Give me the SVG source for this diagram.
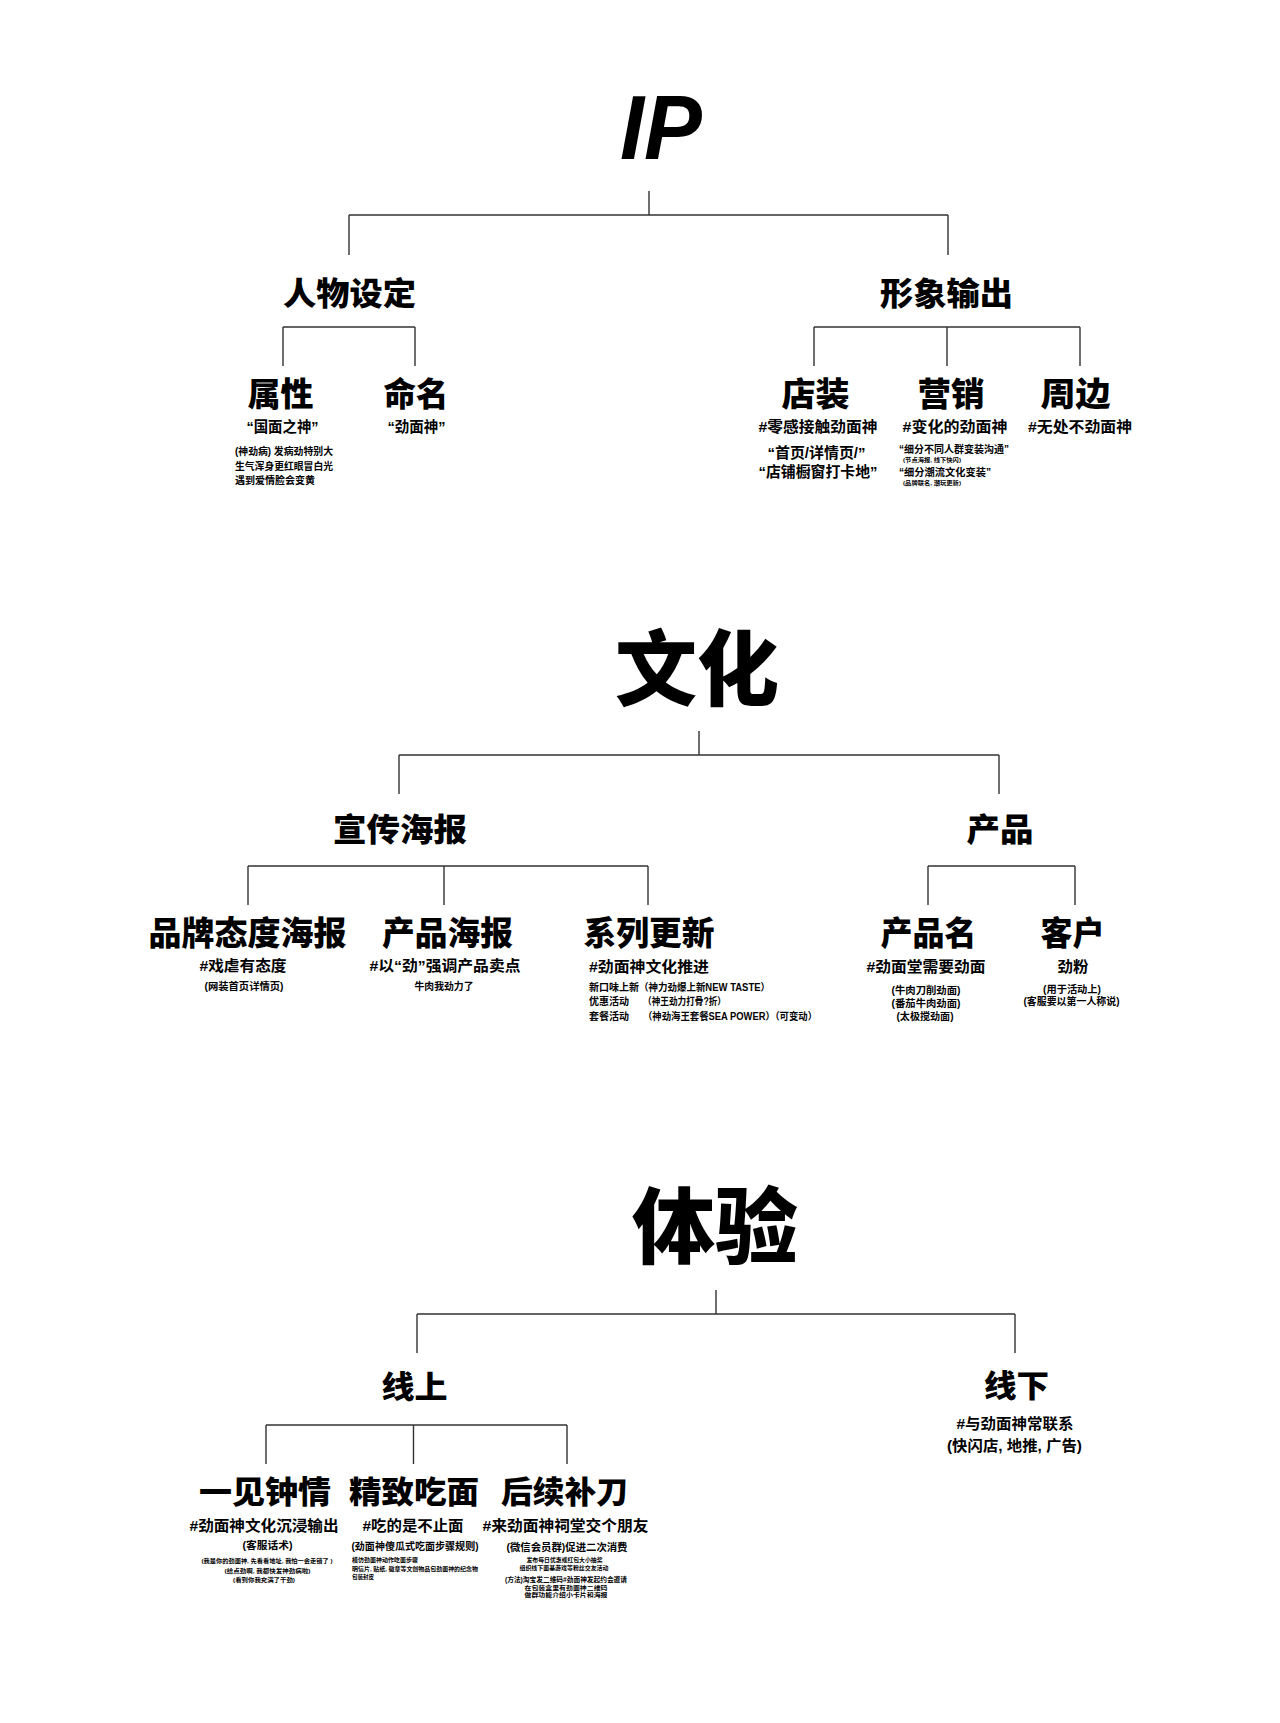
<svg xmlns="http://www.w3.org/2000/svg" width="1280" height="1723" viewBox="0 0 1280 1723">
<style>
text{font-family:"Liberation Sans","Noto Sans CJK SC",sans-serif;fill:#000;font-weight:700}
.t{font-weight:900}
.ip{font-family:"Liberation Sans","Roboto",sans-serif;font-style:italic;font-weight:900;font-size:90px}
.h2{font-size:32px;font-weight:900}
.h3{font-size:33px;font-weight:900}
.sub{font-size:15px}
.sm{font-size:10px}
.xs{font-size:6px}
.m{text-anchor:middle}
.conn path{stroke:#333;stroke-width:1.4;fill:none}
</style>
<rect width="1280" height="1723" fill="#fff"/>
<g class="conn" id="connectors">
<path d="M649,191V215M349,215H948M349,215V255M948,215V255"/>
<path d="M283,327H415M283,327V366M415,327V366"/>
<path d="M814,327H1080M814,327V366M947,327V366M1080,327V366"/>
<path d="M699,731V755M399,755H999M399,755V794M999,755V794"/>
<path d="M248,866H648M248,866V905M444,866V905M648,866V905"/>
<path d="M928,866H1075M928,866V905M1075,866V905"/>
<path d="M716,1290V1314M417,1314H1015M417,1314V1353M1015,1314V1353"/>
<path d="M266,1425H567M266,1425V1464M413.5,1425V1464M567,1425V1464"/>
</g>

<g id="ip"><text class="ip m" x="661" y="159" textLength="82" lengthAdjust="spacingAndGlyphs">IP</text></g>
<g id="renwu"><text class="h2 m" x="349.5" y="305" textLength="133" lengthAdjust="spacingAndGlyphs">人物设定</text></g>
<g id="xingxiang"><text class="h2 m" x="946.5" y="305" textLength="133" lengthAdjust="spacingAndGlyphs">形象输出</text></g>
<g id="shuxing">
<text class="h3 m" x="280.5" y="406" textLength="66" lengthAdjust="spacingAndGlyphs">属性</text>
<text class="sub m" x="282.5" y="432" textLength="72" lengthAdjust="spacingAndGlyphs">“国面之神”</text>
<text class="sm" x="235" y="455" textLength="98" lengthAdjust="spacingAndGlyphs">(神劲病) 发病劲特别大</text>
<text class="sm" x="235" y="469.5" textLength="98" lengthAdjust="spacingAndGlyphs">生气浑身更红眼冒白光</text>
<text class="sm" x="235" y="484" textLength="80" lengthAdjust="spacingAndGlyphs">遇到爱情脸会变黄</text>
</g>
<g id="mingming">
<text class="h3 m" x="416" y="406" textLength="65" lengthAdjust="spacingAndGlyphs">命名</text>
<text class="sub m" x="416.5" y="432" textLength="58" lengthAdjust="spacingAndGlyphs">“劲面神”</text>
</g>
<g id="dianzhuang">
<text class="h3 m" x="815.5" y="406" textLength="68" lengthAdjust="spacingAndGlyphs">店装</text>
<text class="sub m" x="818" y="432" textLength="119" lengthAdjust="spacingAndGlyphs">#零感接触劲面神</text>
<text class="sub m" x="816.5" y="458" textLength="98" lengthAdjust="spacingAndGlyphs">“首页/详情页/”</text>
<text class="sub m" x="818" y="477" textLength="119" lengthAdjust="spacingAndGlyphs">“店铺橱窗打卡地”</text>
</g>
<g id="yingxiao">
<text class="h3 m" x="951" y="406" textLength="67" lengthAdjust="spacingAndGlyphs">营销</text>
<text class="sub m" x="955" y="432" textLength="105" lengthAdjust="spacingAndGlyphs">#变化的劲面神</text>
<text class="sm" x="899" y="453" textLength="110" lengthAdjust="spacingAndGlyphs">“细分不同人群变装沟通”</text>
<text style="font-size:6px" x="903" y="462" textLength="58" lengthAdjust="spacingAndGlyphs">(节点海报, 线下快闪)</text>
<text class="sm" x="899" y="476" textLength="92" lengthAdjust="spacingAndGlyphs">“细分潮流文化变装”</text>
<text style="font-size:6px" x="903" y="485" textLength="58" lengthAdjust="spacingAndGlyphs">(品牌联名, 潮玩更新)</text>
</g>
<g id="zhoubian">
<text class="h3 m" x="1075.5" y="406" textLength="70" lengthAdjust="spacingAndGlyphs">周边</text>
<text class="sub m" x="1080" y="432" textLength="104" lengthAdjust="spacingAndGlyphs">#无处不劲面神</text>
</g>

<g id="wenhua"><text class="t m" style="font-size:82px" x="697" y="699">文化</text></g>
<g id="xuanchuan"><text class="h2 m" x="400" y="841" textLength="134" lengthAdjust="spacingAndGlyphs">宣传海报</text></g>
<g id="chanpin"><text class="h2 m" x="1000" y="841" textLength="67" lengthAdjust="spacingAndGlyphs">产品</text></g>
<g id="pinpai">
<text class="h3 m" x="247.5" y="945" textLength="198" lengthAdjust="spacingAndGlyphs">品牌态度海报</text>
<text class="sub m" x="243" y="971" textLength="87" lengthAdjust="spacingAndGlyphs">#戏虐有态度</text>
<text class="sm m" x="244" y="990" textLength="79" lengthAdjust="spacingAndGlyphs">(网装首页详情页)</text>
</g>
<g id="chanpinhaibao">
<text class="h3 m" x="447.5" y="945" textLength="131" lengthAdjust="spacingAndGlyphs">产品海报</text>
<text class="sub m" x="445" y="971" textLength="151" lengthAdjust="spacingAndGlyphs">#以“劲”强调产品卖点</text>
<text class="sm m" x="444" y="990" textLength="59" lengthAdjust="spacingAndGlyphs">牛肉我劲力了</text>
</g>
<g id="xilie">
<text class="h3 m" x="649" y="945" textLength="131" lengthAdjust="spacingAndGlyphs">系列更新</text>
<text class="sub" x="589" y="972" textLength="120" lengthAdjust="spacingAndGlyphs">#劲面神文化推进</text>
<text class="sm" x="589" y="991">新口味上新</text>
<text class="sm" x="639" y="991" textLength="131" lengthAdjust="spacingAndGlyphs">（神力劲爆上新NEW TASTE）</text>
<text class="sm" x="589" y="1005">优惠活动</text>
<text class="sm" x="643" y="1005" textLength="83" lengthAdjust="spacingAndGlyphs">（神王劲力打骨?折）</text>
<text class="sm" x="589" y="1020">套餐活动</text>
<text class="sm" x="643" y="1020" textLength="174" lengthAdjust="spacingAndGlyphs">（神劲海王套餐SEA POWER）（可变动）</text>
</g>
<g id="chanpinming">
<text class="h3 m" x="928.5" y="945" textLength="96" lengthAdjust="spacingAndGlyphs">产品名</text>
<text class="sub m" x="926" y="972" textLength="119" lengthAdjust="spacingAndGlyphs">#劲面堂需要劲面</text>
<text class="sm m" x="926" y="994" textLength="69" lengthAdjust="spacingAndGlyphs">(牛肉刀削劲面)</text>
<text class="sm m" x="926" y="1007" textLength="69" lengthAdjust="spacingAndGlyphs">(番茄牛肉劲面)</text>
<text class="sm m" x="925" y="1020" textLength="57" lengthAdjust="spacingAndGlyphs">(太极搅劲面)</text>
</g>
<g id="kehu">
<text class="h3 m" x="1072.5" y="945" textLength="64" lengthAdjust="spacingAndGlyphs">客户</text>
<text class="sub m" x="1073" y="972" textLength="31" lengthAdjust="spacingAndGlyphs">劲粉</text>
<text class="sm m" x="1072" y="993" textLength="58" lengthAdjust="spacingAndGlyphs">(用于活动上)</text>
<text class="sm m" x="1071.5" y="1005" textLength="96" lengthAdjust="spacingAndGlyphs">(客服要以第一人称说)</text>
</g>

<g id="tiyan"><text class="t m" style="font-size:83px" x="715" y="1257">体验</text></g>
<g id="xianshang"><text class="h2 m" style="font-size:31px" x="414.5" y="1398" textLength="66" lengthAdjust="spacingAndGlyphs">线上</text></g>
<g id="xianxia">
<text class="h2 m" style="font-size:31px" x="1016.5" y="1397" textLength="65" lengthAdjust="spacingAndGlyphs">线下</text>
<text class="sub m" x="1015" y="1429" textLength="117" lengthAdjust="spacingAndGlyphs">#与劲面神常联系</text>
<text class="sub m" x="1014.5" y="1451" textLength="135" lengthAdjust="spacingAndGlyphs">(快闪店, 地推, 广告)</text>
</g>
<g id="yijian">
<text class="h2 m" style="font-size:31px" x="265" y="1503" textLength="132" lengthAdjust="spacingAndGlyphs">一见钟情</text>
<text class="sub m" x="264" y="1531" textLength="149" lengthAdjust="spacingAndGlyphs">#劲面神文化沉浸输出</text>
<text class="sm m" style="font-size:10.5px" x="267.5" y="1549" textLength="50" lengthAdjust="spacingAndGlyphs">(客服话术)</text>
<text class="xs m" x="267" y="1563" textLength="131" lengthAdjust="spacingAndGlyphs">(我是你的劲面神, 先看看地址, 我怕一会走错了 )</text>
<text class="xs m" x="267.5" y="1573" textLength="86" lengthAdjust="spacingAndGlyphs">(给点劲啊, 我都快发神劲病啦)</text>
<text class="xs m" x="264" y="1582" textLength="62" lengthAdjust="spacingAndGlyphs">(看到你我充满了干劲)</text>
</g>
<g id="jingzhi">
<text class="h2 m" style="font-size:31px" x="414" y="1503" textLength="130" lengthAdjust="spacingAndGlyphs">精致吃面</text>
<text class="sub m" x="413" y="1531" textLength="101" lengthAdjust="spacingAndGlyphs">#吃的是不止面</text>
<text class="sm m" style="font-size:10.5px" x="415" y="1550" textLength="127" lengthAdjust="spacingAndGlyphs">(劲面神傻瓜式吃面步骤规则)</text>
<text class="xs" x="352" y="1562" textLength="66" lengthAdjust="spacingAndGlyphs">模仿劲面神动作吃面步骤</text>
<text class="xs" x="352" y="1571" textLength="126" lengthAdjust="spacingAndGlyphs">明信片, 贴纸, 徽章等文创物品包劲面神的纪念物</text>
<text class="xs" x="352" y="1579" textLength="22" lengthAdjust="spacingAndGlyphs">包装封皮</text>
</g>
<g id="houxu">
<text class="h2 m" style="font-size:31px" x="564.5" y="1503" textLength="127" lengthAdjust="spacingAndGlyphs">后续补刀</text>
<text class="sub m" x="565.5" y="1531" textLength="166" lengthAdjust="spacingAndGlyphs">#来劲面神祠堂交个朋友</text>
<text class="sm m" style="font-size:10.5px" x="567" y="1551" textLength="121" lengthAdjust="spacingAndGlyphs">(微信会员群)促进二次消费</text>
<text class="xs m" x="564.5" y="1562" textLength="76" lengthAdjust="spacingAndGlyphs">发布每日优惠或红包大小抽奖</text>
<text class="xs m" x="564" y="1569.5" textLength="89" lengthAdjust="spacingAndGlyphs">组织线下面基游戏等粉丝交友活动</text>
<text class="xs m" style="font-size:6.5px" x="566" y="1582" textLength="122" lengthAdjust="spacingAndGlyphs">(方法)淘宝发二维码#劲面神发起约会邀请</text>
<text class="xs m" x="566" y="1589.5" textLength="83" lengthAdjust="spacingAndGlyphs">在包装盒里有劲面神二维码</text>
<text class="xs m" x="566" y="1597" textLength="83" lengthAdjust="spacingAndGlyphs">做群功能介绍小卡片和海报</text>
</g>
</svg>
